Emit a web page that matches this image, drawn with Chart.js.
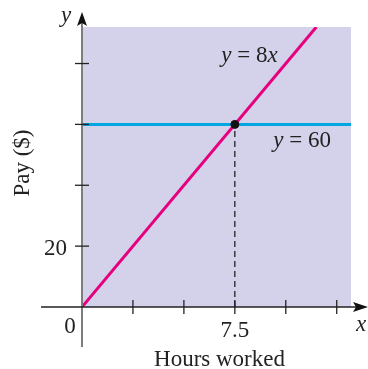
<!DOCTYPE html>
<html>
<head>
<meta charset="utf-8">
<script src="https://cdn.jsdelivr.net/npm/chart.js@4"></script>
<style>
  html, body { margin: 0; padding: 0; background: #fff; }
  #wrap { width: 368px; height: 369px; position: relative; }
</style>
</head>
<body>
<div id="wrap"><canvas id="payChart"></canvas></div>
<script>
// values
const xMax = 13.2;
const yMax = 92;
const xTicks = [2.5, 5, 7.5, 10, 12.5];
const xTickLabels = ['', '', '7.5', '', ''];
const yTicks = [20, 40, 60, 80];
const yTickLabels = ['20', '', '', ''];
const wageHours = [0, 11.5];      // y = 8x
const wagePay = [0, 92];
const flatHours = [0, 13.2];      // y = 60
const flatPay = [60, 60];
const meetHours = [7.5];
const meetPay = [60];

const SERIF = '"Liberation Serif", "DejaVu Serif", serif';

function toPoints(xs, ys) {
    return xs.map((x, i) => ({ x: x, y: ys[i] }));
}

// draw text where some parts are italic
function richText(ctx, parts, x, y, align) {
    let total = 0;
    parts.forEach(p => {
        ctx.font = (p[1] ? 'italic ' : '') + '23px ' + SERIF;
        total += ctx.measureText(p[0]).width;
    });
    let cx = align === 'center' ? x - total / 2 : x;
    ctx.textAlign = 'left';
    parts.forEach(p => {
        ctx.font = (p[1] ? 'italic ' : '') + '23px ' + SERIF;
        ctx.fillText(p[0], cx, y);
        cx += ctx.measureText(p[0]).width;
    });
}

const backdrop = {
    id: 'backdrop',
    beforeDatasetsDraw(chart) {
        const { ctx, chartArea: a } = chart;
        ctx.save();
        ctx.fillStyle = '#d4d2ea';
        ctx.fillRect(a.left, a.top, a.right - a.left, a.bottom - a.top);
        ctx.restore();
    }
};

const axesPlugin = {
    id: 'axesPlugin',
    afterDatasetsDraw(chart) {
        const { ctx, scales } = chart;
        const x0 = scales.x.getPixelForValue(0);
        const y0 = scales.y.getPixelForValue(0);
        const top = scales.y.getPixelForValue(yMax);
        const right = scales.x.getPixelForValue(xMax);
        ctx.save();

        // y axis
        ctx.strokeStyle = '#7d7d7d';
        ctx.lineWidth = 2;
        ctx.beginPath();
        ctx.moveTo(x0, y0 + 40);
        ctx.lineTo(x0, top - 6);
        ctx.stroke();
        // x axis
        ctx.strokeStyle = '#222';
        ctx.lineWidth = 1.3;
        ctx.beginPath();
        ctx.moveTo(x0 - 41, y0);
        ctx.lineTo(right + 6, y0);
        ctx.stroke();

        // arrowheads
        ctx.fillStyle = '#111';
        ctx.beginPath();
        ctx.moveTo(x0, top - 15);
        ctx.lineTo(x0 + 5, top - 1);
        ctx.lineTo(x0, top - 4);
        ctx.lineTo(x0 - 5, top - 1);
        ctx.closePath();
        ctx.fill();
        ctx.beginPath();
        ctx.moveTo(right + 17, y0);
        ctx.lineTo(right + 2, y0 - 5);
        ctx.lineTo(right + 5, y0);
        ctx.lineTo(right + 2, y0 + 5);
        ctx.closePath();
        ctx.fill();

        // ticks
        ctx.strokeStyle = '#222';
        ctx.lineWidth = 1.3;
        xTicks.forEach(v => {
            const px = scales.x.getPixelForValue(v);
            ctx.beginPath();
            ctx.moveTo(px, y0 - 7);
            ctx.lineTo(px, y0 + 7);
            ctx.stroke();
        });
        yTicks.forEach(v => {
            const py = scales.y.getPixelForValue(v);
            ctx.beginPath();
            ctx.moveTo(x0 - 7, py);
            ctx.lineTo(x0 + 7, py);
            ctx.stroke();
        });

        // tick labels
        ctx.fillStyle = '#222';
        ctx.font = '23px ' + SERIF;
        ctx.textBaseline = 'alphabetic';
        ctx.textAlign = 'center';
        xTicks.forEach((v, i) => {
            if (xTickLabels[i]) ctx.fillText(xTickLabels[i], scales.x.getPixelForValue(v), y0 + 30);
        });
        ctx.textAlign = 'right';
        yTicks.forEach((v, i) => {
            if (yTickLabels[i]) ctx.fillText(yTickLabels[i], x0 - 15, scales.y.getPixelForValue(v) + 9);
        });
        ctx.textAlign = 'center';
        ctx.fillText('0', x0 - 12, y0 + 26);

        // axis names
        ctx.font = 'italic 23px ' + SERIF;
        ctx.fillText('y', x0 - 16, top - 5);
        ctx.fillText('x', right + 10, y0 + 24);
        ctx.font = '23px ' + SERIF;
        ctx.fillText('Hours worked', (x0 + right) / 2 + 3, y0 + 59);
        ctx.save();
        ctx.translate(29, 163);
        ctx.rotate(-Math.PI / 2);
        ctx.fillText('Pay ($)', 0, 0);
        ctx.restore();

        // line labels
        richText(ctx, [['y', true], [' = 8', false], ['x', true]], scales.x.getPixelForValue(8.22), scales.y.getPixelForValue(80.5), 'center');
        richText(ctx, [['y', true], [' = 60', false]], scales.x.getPixelForValue(10.8), scales.y.getPixelForValue(52.6), 'center');

        ctx.restore();
    }
};

new Chart(document.getElementById('payChart'), {
    type: 'scatter',
    data: {
        datasets: [
            {
                label: 'drop',
                data: [{ x: meetHours[0], y: 0 }, { x: meetHours[0], y: meetPay[0] }],
                showLine: true,
                borderColor: '#111',
                borderWidth: 1.2,
                borderDash: [6, 4],
                pointRadius: 0,
                order: 3
            },
            {
                label: 'y = 60',
                data: toPoints(flatHours, flatPay),
                showLine: true,
                borderColor: '#00a6e2',
                borderWidth: 3,
                pointRadius: 0,
                order: 2
            },
            {
                label: 'y = 8x',
                data: toPoints(wageHours, wagePay),
                showLine: true,
                borderColor: '#e5007d',
                borderWidth: 3,
                pointRadius: 0,
                order: 1
            },
            {
                label: 'meet',
                data: toPoints(meetHours, meetPay),
                backgroundColor: '#111',
                borderColor: '#111',
                pointRadius: 4,
                order: 0
            }
        ]
    },
    options: {
        responsive: true,
        maintainAspectRatio: false,
        animation: false,
        layout: { padding: { left: 82, top: 27, right: 17, bottom: 62 } },
        plugins: { legend: { display: false }, tooltip: { enabled: false } },
        scales: {
            x: { type: 'linear', min: 0, max: xMax, display: false },
            y: { type: 'linear', min: 0, max: yMax, display: false }
        }
    },
    plugins: [backdrop, axesPlugin]
});
</script>
</body>
</html>
